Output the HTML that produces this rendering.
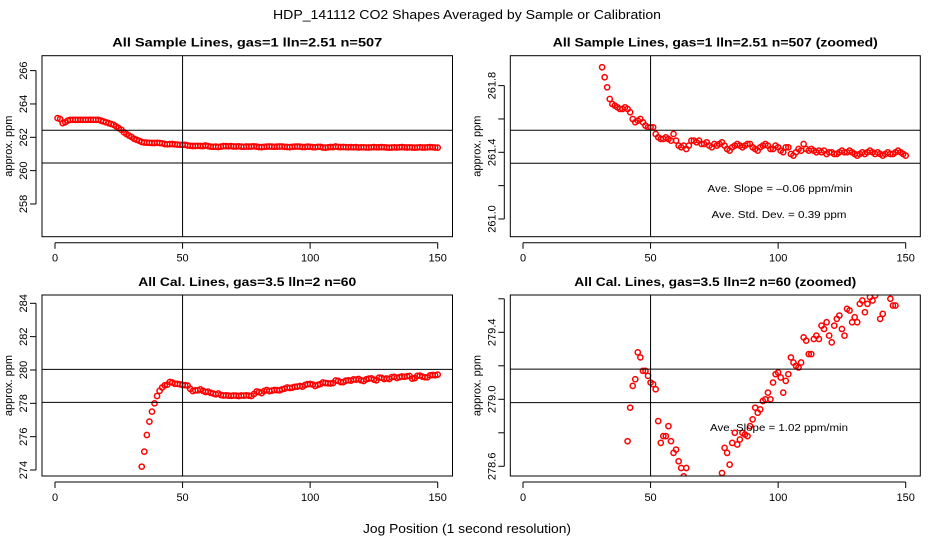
<!DOCTYPE html>
<html><head><meta charset="utf-8"><style>
html,body{margin:0;padding:0;background:#fff;width:936px;height:540px;overflow:hidden;}
svg{display:block;font-family:"Liberation Sans",sans-serif;}
</style></head><body>
<svg id="chart" width="936" height="540" viewBox="0 0 936 540" xmlns="http://www.w3.org/2000/svg">
<rect width="936" height="540" fill="#fff"/>
<text x="467" y="19" text-anchor="middle" font-size="13" textLength="388" lengthAdjust="spacingAndGlyphs">HDP_141112  CO2 Shapes Averaged by Sample or Calibration</text>
<text x="467" y="533" text-anchor="middle" font-size="13" textLength="208" lengthAdjust="spacingAndGlyphs">Jog Position (1 second resolution)</text>
</svg>
<script>
// x positions are 1..150 (jog position)
const sampleValues = [
263.15,263.1,262.85,262.9,263.0,263.05,263.05,263.05,263.05,263.05,
263.05,263.05,263.05,263.05,263.05,263.05,263.05,263.0,262.95,262.9,
262.85,262.8,262.75,262.65,262.55,262.45,262.3,262.2,262.1,262.02,
261.91,261.85,261.79,261.72,261.69,261.68,261.67,261.66,261.66,261.67,
261.66,261.64,261.60,261.58,261.59,261.60,261.58,261.56,261.55,261.55,
261.55,261.51,261.49,261.48,261.48,261.49,261.48,261.47,261.51,261.47,
261.44,261.43,261.44,261.42,261.44,261.47,261.47,261.46,261.47,261.45,
261.45,261.46,261.44,261.43,261.45,261.44,261.45,261.46,261.44,261.42,
261.41,261.43,261.44,261.45,261.44,261.43,261.44,261.45,261.45,261.43,
261.42,261.41,261.43,261.44,261.45,261.44,261.42,261.42,261.44,261.43,
261.41,261.40,261.43,261.43,261.39,261.38,261.40,261.42,261.41,261.45,
261.42,261.41,261.42,261.41,261.40,261.41,261.40,261.41,261.39,261.40,
261.40,261.39,261.39,261.40,261.41,261.40,261.40,261.41,261.40,261.39,
261.38,261.39,261.40,261.39,261.40,261.41,261.40,261.39,261.40,261.39,
261.38,261.39,261.40,261.39,261.39,261.40,261.41,261.40,261.39,261.38];
const calStart = 34;
const calValues = [
274.2,275.1,276.1,276.9,277.5,278.0,278.44,
278.75,278.95,279.08,279.12,279.28,279.25,279.17,279.17,279.14,279.10,
279.09,279.06,278.87,278.74,278.78,278.78,278.84,278.75,278.68,278.70,
278.63,278.59,278.54,278.59,
278.5,278.47,278.48,278.46,278.45,278.47,278.46,278.44,278.47,278.46,278.48,278.46,278.44,
278.56,278.71,278.68,278.61,278.74,278.80,278.73,278.76,278.80,278.79,278.78,278.84,
278.88,278.95,278.92,278.94,278.99,279.0,279.04,279.0,279.1,279.15,
279.16,279.13,279.04,279.11,279.15,279.25,279.22,279.20,279.19,279.22,
279.37,279.35,279.27,279.27,279.36,279.38,279.36,279.44,279.42,279.46,
279.38,279.34,279.44,279.48,279.50,279.42,279.38,279.54,279.53,279.46,
279.49,279.46,279.57,279.59,279.52,279.57,279.61,279.59,279.62,279.64,
279.48,279.51,279.65,279.66,279.60,279.56,279.56,279.68,279.70,279.68,279.72];
const xTicks = [0,50,100,150];
const tlTicks = [258,260,262,264,266];
const trTicks = [261.0,261.2,261.4,261.6,261.8];
const trLabels = [261.0,261.4,261.8];
const blTicks = [274,276,278,280,282,284];
const brTicks = [278.6,278.8,279.0,279.2,279.4,279.6];
const brLabels = [278.6,279.0,279.4];
const tlHLines = [262.42,260.46];
const trHLines = [261.532,261.334];
const blHLines = [280.04,278.06];
const brHLines = [279.18,278.98];
const vLineX = 50;

const NS = "http://www.w3.org/2000/svg";
const svg = document.getElementById('chart');
function mk(tag, attrs, parent){
  const e = document.createElementNS(NS, tag);
  for (const k in attrs) e.setAttribute(k, attrs[k]);
  (parent||svg).appendChild(e);
  return e;
}
const sampleXY = sampleValues.map((v,i)=>[i+1,v]);
const calXY = calValues.map((v,i)=>[i+calStart,v]);

function panel(p){
  const g = mk('g', {});
  
  
  const sx = x => p.x0px + (x - 0) * (p.x150px - p.x0px) / 150;
  const sy = v => p.yRefPx + (p.yRef - v) * p.pxPerUnit;
  const clipId = 'clip-' + p.name;
  const cp = mk('clipPath', {id: clipId}, g);
  mk('rect', {x:p.left, y:p.top, width:p.right-p.left, height:p.bottom-p.top}, cp);
  const t = mk('text', {x:(p.left+p.right)/2, y:p.top-9, 'text-anchor':'middle', 'font-size':12, 'font-weight':'bold', textLength:p.titleW, lengthAdjust:'spacingAndGlyphs'}, g);
  t.textContent = p.title;
  
  
  const pts = mk('g', {'clip-path':'url(#'+clipId+')'}, g);
  
  
  p.data.forEach(d=>{
    const c = mk('circle', {cx:sx(d[0]).toFixed(2), cy:sy(d[1]).toFixed(2), r:2.6, fill:'none', stroke:'#ff0000', 'stroke-width':1.5}, pts);
    
    
  });
  p.hlines.forEach(v=>{
    const l = mk('line', {x1:p.left, x2:p.right, y1:sy(v), y2:sy(v), stroke:'#000', 'stroke-width':1}, g);
    
    
  });
  const vl = mk('line', {x1:sx(vLineX), x2:sx(vLineX), y1:p.top, y2:p.bottom, stroke:'#000', 'stroke-width':1}, g);
  
  
  const box = mk('rect', {x:p.left, y:p.top, width:p.right-p.left, height:p.bottom-p.top, fill:'none', stroke:'#000', 'stroke-width':1}, g);
  
  
  mk('line', {x1:sx(xTicks[0]), x2:sx(xTicks[xTicks.length-1]), y1:p.bottom+6, y2:p.bottom+6, stroke:'#000'}, g);
  xTicks.forEach(v=>{
    mk('line', {x1:sx(v), x2:sx(v), y1:p.bottom+6, y2:p.bottom+12, stroke:'#000'}, g);
    const tl = mk('text', {x:sx(v), y:p.bottom+25, 'text-anchor':'middle', 'font-size':11}, g);
    tl.textContent = v;
    
    
  });
  const ax = p.left - 6;
  mk('line', {x1:ax, x2:ax, y1:sy(p.yTicks[0]), y2:sy(p.yTicks[p.yTicks.length-1]), stroke:'#000'}, g);
  p.yTicks.forEach(v=>{
    mk('line', {x1:ax-6, x2:ax, y1:sy(v), y2:sy(v), stroke:'#000'}, g);
  });
  p.yLabels.forEach(v=>{
    const y = sy(v);
    const tl = mk('text', {x:ax-9, y:y, 'text-anchor':'middle', 'font-size':11, transform:'rotate(-90 '+(ax-9)+' '+y+')'}, g);
    tl.textContent = p.fmt(v);
    
    
  });
  const yc = (p.top+p.bottom)/2;
  const yt = mk('text', {x:p.left-30, y:yc, 'text-anchor':'middle', 'font-size':11, transform:'rotate(-90 '+(p.left-30)+' '+yc+')'}, g);
  yt.textContent = 'approx. ppm';
  
  
  (p.notes||[]).forEach(n=>{
    const nt = mk('text', {x:n[0], y:n[1], 'text-anchor':'middle', 'font-size':10, textLength:n[3], lengthAdjust:'spacingAndGlyphs'}, g);
    nt.textContent = n[2];
    
    
  });
}
const f0 = v => String(Math.round(v));
const f1 = v => v.toFixed(1);
panel({name:'sample-panel', title:'All Sample Lines, gas=1 lln=2.51 n=507', titleW:270,
  left:42, right:452.5, top:55.7, bottom:236.7, x0px:55, x150px:437.7,
  yRef:262, yRefPx:137.3, pxPerUnit:16.67, yTicks:tlTicks, yLabels:tlTicks, fmt:f0,
  hlines:tlHLines, data:sampleXY});
panel({name:'sample-zoomed-panel', title:'All Sample Lines, gas=1 lln=2.51 n=507 (zoomed)', titleW:325,
  left:510.3, right:920.3, top:55.7, bottom:236.7, x0px:523, x150px:905.7,
  yRef:261.4, yRefPx:152.3, pxPerUnit:166.7, yTicks:trTicks, yLabels:trLabels, fmt:f1,
  hlines:trHLines, data:sampleXY,
  notes:[[780,192,'Ave. Slope =  \u20130.06  ppm/min',145],[779,218,'Ave. Std. Dev. =  0.39  ppm',135]]});
panel({name:'cal-panel', title:'All Cal. Lines, gas=3.5 lln=2 n=60', titleW:218,
  left:42, right:452.5, top:295, bottom:476, x0px:55, x150px:437.7,
  yRef:274, yRefPx:470, pxPerUnit:16.67, yTicks:blTicks, yLabels:blTicks, fmt:f0,
  hlines:blHLines, data:calXY});
panel({name:'cal-zoomed-panel', title:'All Cal. Lines, gas=3.5 lln=2 n=60 (zoomed)', titleW:282,
  left:510.3, right:920.3, top:295, bottom:476, x0px:523, x150px:905.7,
  yRef:279.0, yRefPx:399.3, pxPerUnit:167.5, yTicks:brTicks, yLabels:brLabels, fmt:f1,
  hlines:brHLines, data:calXY,
  notes:[[779,431,'Ave. Slope =  1.02  ppm/min',138]]});
</script>
</body></html>
